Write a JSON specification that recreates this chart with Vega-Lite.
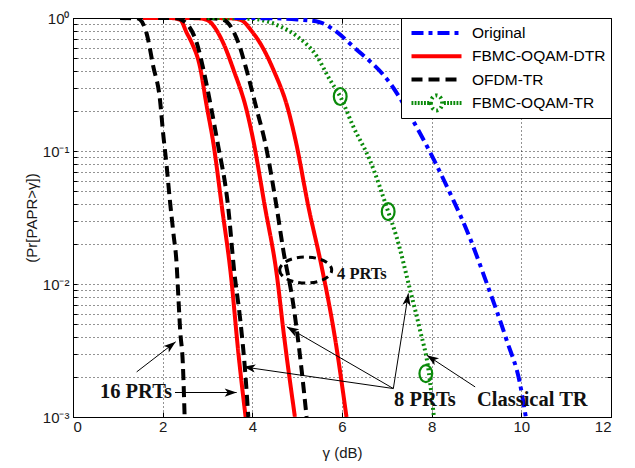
{
  "$schema": "https://vega.github.io/schema/vega-lite/v6.json",
  "autosize": "none",
  "width": 538,
  "height": 399,
  "padding": {"left": 73, "top": 18, "right": 24, "bottom": 51},
  "background": "white",
  "config": {"view": {"stroke": "black", "strokeWidth": 1}},
  "datasets": {
    "curves": [
      {"series": "FBMC-OQAM-DTR", "curve": "R16", "g": 1.56, "p": 1},
      {"series": "FBMC-OQAM-DTR", "curve": "R16", "g": 2.2, "p": 0.998},
      {"series": "FBMC-OQAM-DTR", "curve": "R16", "g": 2.39, "p": 0.97},
      {"series": "FBMC-OQAM-DTR", "curve": "R16", "g": 2.54, "p": 0.77},
      {"series": "FBMC-OQAM-DTR", "curve": "R16", "g": 2.65, "p": 0.65},
      {"series": "FBMC-OQAM-DTR", "curve": "R16", "g": 2.83, "p": 0.433},
      {"series": "FBMC-OQAM-DTR", "curve": "R16", "g": 2.98, "p": 0.22},
      {"series": "FBMC-OQAM-DTR", "curve": "R16", "g": 3.13, "p": 0.115},
      {"series": "FBMC-OQAM-DTR", "curve": "R16", "g": 3.32, "p": 0.0382},
      {"series": "FBMC-OQAM-DTR", "curve": "R16", "g": 3.52, "p": 0.0118},
      {"series": "FBMC-OQAM-DTR", "curve": "R16", "g": 3.69, "p": 0.003},
      {"series": "FBMC-OQAM-DTR", "curve": "R16", "g": 3.85, "p": 0.001},
      {"series": "FBMC-OQAM-DTR", "curve": "R8", "g": 2.5, "p": 1},
      {"series": "FBMC-OQAM-DTR", "curve": "R8", "g": 2.8, "p": 0.995},
      {"series": "FBMC-OQAM-DTR", "curve": "R8", "g": 2.98, "p": 0.97},
      {"series": "FBMC-OQAM-DTR", "curve": "R8", "g": 3.35, "p": 0.65},
      {"series": "FBMC-OQAM-DTR", "curve": "R8", "g": 3.58, "p": 0.408},
      {"series": "FBMC-OQAM-DTR", "curve": "R8", "g": 3.87, "p": 0.204},
      {"series": "FBMC-OQAM-DTR", "curve": "R8", "g": 4.02, "p": 0.121},
      {"series": "FBMC-OQAM-DTR", "curve": "R8", "g": 4.28, "p": 0.0382},
      {"series": "FBMC-OQAM-DTR", "curve": "R8", "g": 4.54, "p": 0.0121},
      {"series": "FBMC-OQAM-DTR", "curve": "R8", "g": 4.71, "p": 0.004},
      {"series": "FBMC-OQAM-DTR", "curve": "R8", "g": 4.95, "p": 0.001},
      {"series": "FBMC-OQAM-DTR", "curve": "R4", "g": 3.0, "p": 1},
      {"series": "FBMC-OQAM-DTR", "curve": "R4", "g": 3.5, "p": 0.995},
      {"series": "FBMC-OQAM-DTR", "curve": "R4", "g": 3.73, "p": 0.97},
      {"series": "FBMC-OQAM-DTR", "curve": "R4", "g": 4.02, "p": 0.77},
      {"series": "FBMC-OQAM-DTR", "curve": "R4", "g": 4.17, "p": 0.65},
      {"series": "FBMC-OQAM-DTR", "curve": "R4", "g": 4.47, "p": 0.408},
      {"series": "FBMC-OQAM-DTR", "curve": "R4", "g": 4.8, "p": 0.204},
      {"series": "FBMC-OQAM-DTR", "curve": "R4", "g": 4.97, "p": 0.118},
      {"series": "FBMC-OQAM-DTR", "curve": "R4", "g": 5.25, "p": 0.0382},
      {"series": "FBMC-OQAM-DTR", "curve": "R4", "g": 5.55, "p": 0.0133},
      {"series": "FBMC-OQAM-DTR", "curve": "R4", "g": 5.84, "p": 0.004},
      {"series": "FBMC-OQAM-DTR", "curve": "R4", "g": 6.1, "p": 0.001},
      {"series": "OFDM-TR", "curve": "B16", "g": 1.05, "p": 1},
      {"series": "OFDM-TR", "curve": "B16", "g": 1.42, "p": 0.995},
      {"series": "OFDM-TR", "curve": "B16", "g": 1.5, "p": 0.97},
      {"series": "OFDM-TR", "curve": "B16", "g": 1.64, "p": 0.77},
      {"series": "OFDM-TR", "curve": "B16", "g": 1.79, "p": 0.433},
      {"series": "OFDM-TR", "curve": "B16", "g": 1.94, "p": 0.243},
      {"series": "OFDM-TR", "curve": "B16", "g": 2.01, "p": 0.136},
      {"series": "OFDM-TR", "curve": "B16", "g": 2.09, "p": 0.0764},
      {"series": "OFDM-TR", "curve": "B16", "g": 2.16, "p": 0.0429},
      {"series": "OFDM-TR", "curve": "B16", "g": 2.24, "p": 0.024},
      {"series": "OFDM-TR", "curve": "B16", "g": 2.31, "p": 0.0143},
      {"series": "OFDM-TR", "curve": "B16", "g": 2.35, "p": 0.008},
      {"series": "OFDM-TR", "curve": "B16", "g": 2.39, "p": 0.0045},
      {"series": "OFDM-TR", "curve": "B16", "g": 2.45, "p": 0.00252},
      {"series": "OFDM-TR", "curve": "B16", "g": 2.49, "p": 0.001},
      {"series": "OFDM-TR", "curve": "B8", "g": 1.9, "p": 1},
      {"series": "OFDM-TR", "curve": "B8", "g": 2.3, "p": 0.995},
      {"series": "OFDM-TR", "curve": "B8", "g": 2.42, "p": 0.97},
      {"series": "OFDM-TR", "curve": "B8", "g": 2.76, "p": 0.65},
      {"series": "OFDM-TR", "curve": "B8", "g": 2.91, "p": 0.408},
      {"series": "OFDM-TR", "curve": "B8", "g": 3.09, "p": 0.204},
      {"series": "OFDM-TR", "curve": "B8", "g": 3.22, "p": 0.118},
      {"series": "OFDM-TR", "curve": "B8", "g": 3.46, "p": 0.0382},
      {"series": "OFDM-TR", "curve": "B8", "g": 3.6, "p": 0.0121},
      {"series": "OFDM-TR", "curve": "B8", "g": 3.73, "p": 0.0054},
      {"series": "OFDM-TR", "curve": "B8", "g": 3.84, "p": 0.0022},
      {"series": "OFDM-TR", "curve": "B8", "g": 3.91, "p": 0.001},
      {"series": "OFDM-TR", "curve": "B4", "g": 2.6, "p": 1},
      {"series": "OFDM-TR", "curve": "B4", "g": 3.1, "p": 0.995},
      {"series": "OFDM-TR", "curve": "B4", "g": 3.35, "p": 0.97},
      {"series": "OFDM-TR", "curve": "B4", "g": 3.69, "p": 0.65},
      {"series": "OFDM-TR", "curve": "B4", "g": 3.87, "p": 0.408},
      {"series": "OFDM-TR", "curve": "B4", "g": 4.1, "p": 0.204},
      {"series": "OFDM-TR", "curve": "B4", "g": 4.28, "p": 0.118},
      {"series": "OFDM-TR", "curve": "B4", "g": 4.54, "p": 0.0382},
      {"series": "OFDM-TR", "curve": "B4", "g": 4.69, "p": 0.018},
      {"series": "OFDM-TR", "curve": "B4", "g": 4.91, "p": 0.00714},
      {"series": "OFDM-TR", "curve": "B4", "g": 5.1, "p": 0.00225},
      {"series": "OFDM-TR", "curve": "B4", "g": 5.21, "p": 0.001},
      {"series": "FBMC-OQAM-TR", "curve": "G", "g": 3.0, "p": 1},
      {"series": "FBMC-OQAM-TR", "curve": "G", "g": 4.0, "p": 0.985},
      {"series": "FBMC-OQAM-TR", "curve": "G", "g": 4.62, "p": 0.865},
      {"series": "FBMC-OQAM-TR", "curve": "G", "g": 5.0, "p": 0.727},
      {"series": "FBMC-OQAM-TR", "curve": "G", "g": 5.44, "p": 0.514},
      {"series": "FBMC-OQAM-TR", "curve": "G", "g": 5.73, "p": 0.343},
      {"series": "FBMC-OQAM-TR", "curve": "G", "g": 5.96, "p": 0.257},
      {"series": "FBMC-OQAM-TR", "curve": "G", "g": 6.25, "p": 0.153},
      {"series": "FBMC-OQAM-TR", "curve": "G", "g": 6.62, "p": 0.0857},
      {"series": "FBMC-OQAM-TR", "curve": "G", "g": 7.03, "p": 0.035},
      {"series": "FBMC-OQAM-TR", "curve": "G", "g": 7.22, "p": 0.0224},
      {"series": "FBMC-OQAM-TR", "curve": "G", "g": 7.52, "p": 0.009},
      {"series": "FBMC-OQAM-TR", "curve": "G", "g": 7.74, "p": 0.0045},
      {"series": "FBMC-OQAM-TR", "curve": "G", "g": 7.93, "p": 0.00225},
      {"series": "FBMC-OQAM-TR", "curve": "G", "g": 8.05, "p": 0.001},
      {"series": "Original", "curve": "O", "g": 3.6, "p": 1},
      {"series": "Original", "curve": "O", "g": 4.5, "p": 0.995},
      {"series": "Original", "curve": "O", "g": 5.0, "p": 0.975},
      {"series": "Original", "curve": "O", "g": 5.5, "p": 0.93},
      {"series": "Original", "curve": "O", "g": 5.85, "p": 0.8},
      {"series": "Original", "curve": "O", "g": 6.25, "p": 0.61},
      {"series": "Original", "curve": "O", "g": 7.07, "p": 0.324},
      {"series": "Original", "curve": "O", "g": 7.74, "p": 0.136},
      {"series": "Original", "curve": "O", "g": 8.48, "p": 0.0429},
      {"series": "Original", "curve": "O", "g": 8.78, "p": 0.0255},
      {"series": "Original", "curve": "O", "g": 9.23, "p": 0.0101},
      {"series": "Original", "curve": "O", "g": 9.67, "p": 0.0038},
      {"series": "Original", "curve": "O", "g": 9.97, "p": 0.00178},
      {"series": "Original", "curve": "O", "g": 10.1, "p": 0.001}
    ],
    "markers": [
      {"g": 5.96, "p": 0.257},
      {"g": 7.03, "p": 0.035},
      {"g": 7.87, "p": 0.00212}
    ],
    "ellipse": [
      {"g": 5.19, "p": 0.01273}
    ],
    "arrows": [
      {"id": "a16u", "g": 1.42, "p": 0.002183, "g2": 2.29, "p2": 0.003673},
      {"id": "a16r", "g": 2.275, "p": 0.001528, "g2": 3.65, "p2": 0.001528},
      {"id": "a8g", "g": 7.145, "p": 0.001637, "g2": 7.48, "p2": 0.008492},
      {"id": "a8r", "g": 7.145, "p": 0.001637, "g2": 4.77, "p2": 0.004764},
      {"id": "a8b", "g": 7.145, "p": 0.001637, "g2": 3.8, "p2": 0.002382},
      {"id": "acl", "g": 8.97, "p": 0.001683, "g2": 7.89, "p2": 0.002917}
    ],
    "labels": [
      {"text": "16 PRTs", "big": true, "g": 0.6, "p": 0.001535},
      {"text": "8 PRTs", "big": true, "g": 7.16, "p": 0.001336},
      {"text": "Classical TR", "big": true, "g": 9.01, "p": 0.001336},
      {"text": "4 PRTs", "big": false, "g": 5.89, "p": 0.01186}
    ]
  },
  "resolve": {"axis": {"x": "independent", "y": "independent"}},
  "layer": [
    {
      "data": {"name": "curves"},
      "mark": {"type": "line", "clip": true, "interpolate": "monotone"},
      "encoding": {
        "x": {"field": "g", "type": "quantitative",
          "scale": {"domain": [0, 12], "nice": false, "zero": false},
          "axis": {"orient": "bottom", "values": [0, 2, 4, 6, 8, 10, 12], "grid": true, "gridColor": "black", "gridDash": [1, 3], "gridOpacity": 0.85,
            "tickSize": -5, "tickColor": "black", "domainColor": "black", "labelFont": "Liberation Sans", "labelFontSize": 15, "labelColor": "#1a1a1a", "labelPadding": 7,
            "title": "γ (dB)", "titleFont": "Liberation Sans", "titleFontSize": 15, "titleFontWeight": "normal", "titleColor": "#1a1a1a", "titlePadding": 11}},
        "y": {"field": "p", "type": "quantitative",
          "scale": {"type": "log", "domain": [0.001, 1], "nice": false},
          "axis": {"orient": "left", "values": [0.001, 0.002, 0.003, 0.004, 0.005, 0.006, 0.007, 0.008, 0.009, 0.01, 0.02, 0.03, 0.04, 0.05, 0.06, 0.07, 0.08, 0.09, 0.1, 0.2, 0.3, 0.4, 0.5, 0.6, 0.7, 0.8, 0.9, 1],
            "labelExpr": "datum.value == 1 ? '10⁰' : datum.value == 0.1 ? '10⁻¹' : datum.value == 0.01 ? '10⁻²' : datum.value == 0.001 ? '10⁻³' : ''",
            "labelOverlap": false, "grid": true, "gridColor": "black", "gridDash": [1, 3], "gridOpacity": 0.85,
            "tickSize": -4, "tickColor": "black", "domainColor": "black", "labelFont": "Liberation Sans", "labelFontSize": 15, "labelColor": "#1a1a1a", "labelPadding": 8,
            "title": "(Pr[PAPR>γ])", "titleFont": "Liberation Sans", "titleFontSize": 15, "titleFontWeight": "normal", "titleColor": "#1a1a1a", "titlePadding": 3}},
        "color": {"field": "series", "type": "nominal",
          "scale": {"domain": ["Original", "FBMC-OQAM-DTR", "OFDM-TR", "FBMC-OQAM-TR"], "range": ["#0000ff", "#ff0000", "#000000", "#0a8a0a"]},
          "legend": {"title": null, "orient": "top-right", "offset": 0, "fillColor": "white", "strokeColor": "black", "padding": 5, "rowPadding": 3.3, "clipHeight": 20,
            "labelFont": "Liberation Sans", "labelFontSize": 15.5, "labelColor": "black", "labelOffset": 27,
            "symbolType": "M-4,0H4", "symbolSize": 156.25, "symbolStrokeWidth": 3.5, "symbolOffset": 22,
            "encode": {"symbols": {"update": {
              "shape": {"signal": "datum.value === 'FBMC-OQAM-TR' ? 'M-4,0h0.3M-3.5,0h0.3M-3,0h0.3M-2.5,0h0.3M-2,0h0.3M-1.5,0h0.3M-0.9,0A0.9,1.2,0,1,0,0.9,0A0.9,1.2,0,1,0,-0.9,0M1.2,0h0.3M1.7,0h0.3M2.2,0h0.3M2.7,0h0.3M3.2,0h0.3M3.7,0h0.3' : 'M-4,0H4'"},
              "strokeDash": {"signal": "datum.value === 'Original' ? [12,5,4,5] : datum.value === 'OFDM-TR' ? [11,6] : [1,0]"},
              "fill": {"value": "transparent"}
            }}}}},
        "strokeDash": {"field": "series", "type": "nominal",
          "scale": {"domain": ["Original", "FBMC-OQAM-DTR", "OFDM-TR", "FBMC-OQAM-TR"], "range": [[12, 5, 4, 5], [1, 0], [11, 6], [2, 3]]}, "legend": null},
        "strokeWidth": {"field": "series", "type": "ordinal",
          "scale": {"domain": ["Original", "FBMC-OQAM-DTR", "OFDM-TR", "FBMC-OQAM-TR"], "range": [4, 4, 4.5, 2]}, "legend": null},
        "detail": {"field": "curve"}
      }
    },
    {
      "data": {"name": "markers"},
      "mark": {"type": "point", "shape": "M-0.75,0A0.75,1,0,1,0,0.75,0A0.75,1,0,1,0,-0.75,0", "filled": false, "stroke": "#0a8a0a", "strokeWidth": 2.2, "size": 289, "opacity": 1},
      "encoding": {
        "x": {"field": "g", "type": "quantitative", "scale": {"domain": [0, 12], "nice": false, "zero": false},
          "axis": {"orient": "top", "values": [0, 2, 4, 6, 8, 10, 12], "labels": false, "grid": false, "tickSize": -5, "tickColor": "black", "domain": false, "title": null}},
        "y": {"field": "p", "type": "quantitative", "scale": {"type": "log", "domain": [0.001, 1], "nice": false},
          "axis": {"orient": "right", "values": [0.001, 0.002, 0.003, 0.004, 0.005, 0.006, 0.007, 0.008, 0.009, 0.01, 0.02, 0.03, 0.04, 0.05, 0.06, 0.07, 0.08, 0.09, 0.1, 0.2, 0.3, 0.4, 0.5, 0.6, 0.7, 0.8, 0.9, 1],
            "labels": false, "grid": false, "tickSize": -4, "tickColor": "black", "domain": false, "title": null}}
      }
    },
    {
      "data": {"name": "ellipse"},
      "mark": {"type": "point", "shape": "M-1,0A1,0.5,0,1,0,1,0A1,0.5,0,1,0,-1,0", "filled": false, "stroke": "black", "strokeWidth": 3, "strokeDash": [7, 5], "size": 2704, "opacity": 1},
      "encoding": {
        "x": {"field": "g", "type": "quantitative", "scale": {"domain": [0, 12], "nice": false, "zero": false}, "axis": null},
        "y": {"field": "p", "type": "quantitative", "scale": {"type": "log", "domain": [0.001, 1], "nice": false}, "axis": null}
      }
    },
    {
      "data": {"name": "arrows"},
      "mark": {"type": "rule", "color": "black", "strokeWidth": 1},
      "encoding": {
        "x": {"field": "g", "type": "quantitative", "scale": {"domain": [0, 12], "nice": false, "zero": false}, "axis": null},
        "y": {"field": "p", "type": "quantitative", "scale": {"type": "log", "domain": [0.001, 1], "nice": false}, "axis": null},
        "x2": {"field": "g2"},
        "y2": {"field": "p2"}
      }
    },
    {
      "data": {"name": "arrows"},
      "transform": [{"filter": "datum.id == 'a16u'"}],
      "mark": {"type": "point", "shape": "M0,0L0.55,1.6L0,1.2L-0.55,1.6Z", "filled": true, "color": "black", "opacity": 1, "size": 225, "angle": 52},
      "encoding": {
        "x": {"field": "g2", "type": "quantitative", "scale": {"domain": [0, 12], "nice": false, "zero": false}, "axis": null},
        "y": {"field": "p2", "type": "quantitative", "scale": {"type": "log", "domain": [0.001, 1], "nice": false}, "axis": null}
      }
    },
    {
      "data": {"name": "arrows"},
      "transform": [{"filter": "datum.id == 'a16r'"}],
      "mark": {"type": "point", "shape": "M0,0L0.55,1.6L0,1.2L-0.55,1.6Z", "filled": true, "color": "black", "opacity": 1, "size": 225, "angle": 90},
      "encoding": {
        "x": {"field": "g2", "type": "quantitative", "scale": {"domain": [0, 12], "nice": false, "zero": false}, "axis": null},
        "y": {"field": "p2", "type": "quantitative", "scale": {"type": "log", "domain": [0.001, 1], "nice": false}, "axis": null}
      }
    },
    {
      "data": {"name": "arrows"},
      "transform": [{"filter": "datum.id == 'a8g'"}],
      "mark": {"type": "point", "shape": "M0,0L0.55,1.6L0,1.2L-0.55,1.6Z", "filled": true, "color": "black", "opacity": 1, "size": 225, "angle": 9},
      "encoding": {
        "x": {"field": "g2", "type": "quantitative", "scale": {"domain": [0, 12], "nice": false, "zero": false}, "axis": null},
        "y": {"field": "p2", "type": "quantitative", "scale": {"type": "log", "domain": [0.001, 1], "nice": false}, "axis": null}
      }
    },
    {
      "data": {"name": "arrows"},
      "transform": [{"filter": "datum.id == 'a8r'"}],
      "mark": {"type": "point", "shape": "M0,0L0.55,1.6L0,1.2L-0.55,1.6Z", "filled": true, "color": "black", "opacity": 1, "size": 225, "angle": 300},
      "encoding": {
        "x": {"field": "g2", "type": "quantitative", "scale": {"domain": [0, 12], "nice": false, "zero": false}, "axis": null},
        "y": {"field": "p2", "type": "quantitative", "scale": {"type": "log", "domain": [0.001, 1], "nice": false}, "axis": null}
      }
    },
    {
      "data": {"name": "arrows"},
      "transform": [{"filter": "datum.id == 'a8b'"}],
      "mark": {"type": "point", "shape": "M0,0L0.55,1.6L0,1.2L-0.55,1.6Z", "filled": true, "color": "black", "opacity": 1, "size": 225, "angle": 278},
      "encoding": {
        "x": {"field": "g2", "type": "quantitative", "scale": {"domain": [0, 12], "nice": false, "zero": false}, "axis": null},
        "y": {"field": "p2", "type": "quantitative", "scale": {"type": "log", "domain": [0.001, 1], "nice": false}, "axis": null}
      }
    },
    {
      "data": {"name": "arrows"},
      "transform": [{"filter": "datum.id == 'acl'"}],
      "mark": {"type": "point", "shape": "M0,0L0.55,1.6L0,1.2L-0.55,1.6Z", "filled": true, "color": "black", "opacity": 1, "size": 225, "angle": 303},
      "encoding": {
        "x": {"field": "g2", "type": "quantitative", "scale": {"domain": [0, 12], "nice": false, "zero": false}, "axis": null},
        "y": {"field": "p2", "type": "quantitative", "scale": {"type": "log", "domain": [0.001, 1], "nice": false}, "axis": null}
      }
    },
    {
      "data": {"name": "labels"},
      "transform": [{"filter": "datum.big"}],
      "mark": {"type": "text", "font": "Liberation Serif", "fontWeight": "bold", "fontSize": 20.5, "align": "left", "baseline": "middle", "color": "#111111"},
      "encoding": {
        "x": {"field": "g", "type": "quantitative", "scale": {"domain": [0, 12], "nice": false, "zero": false}, "axis": null},
        "y": {"field": "p", "type": "quantitative", "scale": {"type": "log", "domain": [0.001, 1], "nice": false}, "axis": null},
        "text": {"field": "text"}
      }
    },
    {
      "data": {"name": "labels"},
      "transform": [{"filter": "!datum.big"}],
      "mark": {"type": "text", "font": "Liberation Serif", "fontWeight": "bold", "fontSize": 16.5, "align": "left", "baseline": "middle", "color": "#111111"},
      "encoding": {
        "x": {"field": "g", "type": "quantitative", "scale": {"domain": [0, 12], "nice": false, "zero": false}, "axis": null},
        "y": {"field": "p", "type": "quantitative", "scale": {"type": "log", "domain": [0.001, 1], "nice": false}, "axis": null},
        "text": {"field": "text"}
      }
    }
  ]
}
